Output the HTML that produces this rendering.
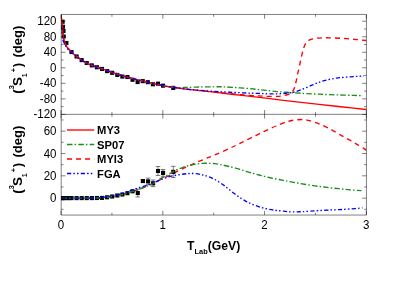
<!DOCTYPE html>
<html><head><meta charset="utf-8"><title>3S1 phase</title>
<style>
html,body{margin:0;padding:0;background:#fff;}
body{width:407px;height:286px;overflow:hidden;font-family:"Liberation Sans",sans-serif;}
svg{display:block;will-change:transform;}
</style></head><body>
<svg width="407" height="286" viewBox="0 0 407 286">
<rect width="407" height="286" fill="#fff"/>
<clipPath id="c1"><rect x="61.20" y="14.45" width="305.25" height="99.90"/></clipPath>
<clipPath id="c2"><rect x="61.20" y="114.35" width="305.25" height="100.70"/></clipPath>
<g fill="none" stroke-width="1.35" stroke-linejoin="round">
<path clip-path="url(#c1)" d="M61.10,14.40 C61.17,15.17 61.35,17.53 61.50,19.00 C61.65,20.47 61.83,21.53 62.00,23.20 C62.17,24.87 62.32,27.13 62.50,29.00 C62.68,30.87 62.87,32.65 63.10,34.40 C63.33,36.15 63.53,38.00 63.90,39.50 C64.27,41.00 64.75,42.09 65.30,43.40 C65.85,44.71 66.47,46.25 67.20,47.37 C67.93,48.48 68.73,49.06 69.70,50.09 C70.67,51.11 71.77,52.39 73.00,53.52 C74.23,54.66 75.63,55.79 77.10,56.90 C78.57,58.01 80.17,59.17 81.80,60.20 C83.43,61.23 85.07,62.17 86.90,63.10 C88.73,64.03 90.75,64.98 92.80,65.80 C94.85,66.62 97.17,67.32 99.20,68.00 C101.23,68.68 102.95,69.22 105.00,69.90 C107.05,70.58 109.25,71.35 111.50,72.10 C113.75,72.85 116.03,73.60 118.50,74.40 C120.97,75.20 122.97,75.96 126.30,76.90 C129.63,77.84 134.55,79.07 138.50,80.07 C142.45,81.07 146.15,82.01 150.00,82.90 C153.85,83.79 157.93,84.68 161.60,85.40 C165.27,86.12 168.32,86.63 172.00,87.20 C175.68,87.77 179.03,88.23 183.70,88.80 C188.37,89.37 194.95,90.05 200.00,90.60 C205.05,91.15 209.00,91.58 214.00,92.10 C219.00,92.62 224.97,93.22 230.00,93.70 C235.03,94.18 239.53,94.63 244.20,95.00 C248.87,95.37 254.37,95.68 258.00,95.90 C261.63,96.12 262.83,96.23 266.00,96.30 C269.17,96.37 274.00,96.42 277.00,96.30 C280.00,96.18 281.88,96.02 284.00,95.60 C286.12,95.18 288.28,94.48 289.70,93.80 C291.12,93.12 291.72,92.47 292.50,91.50 C293.28,90.53 293.82,89.58 294.40,88.00 C294.98,86.42 295.45,84.38 296.00,82.00 C296.55,79.62 297.03,76.78 297.70,73.70 C298.37,70.62 299.27,66.82 300.00,63.50 C300.73,60.18 301.48,56.38 302.10,53.80 C302.72,51.22 303.15,49.67 303.70,48.00 C304.25,46.33 304.72,44.97 305.40,43.80 C306.08,42.63 306.87,41.73 307.80,41.00 C308.73,40.27 309.63,39.85 311.00,39.40 C312.37,38.95 313.80,38.57 316.00,38.30 C318.20,38.03 321.03,37.85 324.20,37.80 C327.37,37.75 331.30,37.85 335.00,38.00 C338.70,38.15 342.73,38.43 346.40,38.70 C350.07,38.97 353.67,39.30 357.00,39.60 C360.33,39.90 364.83,40.35 366.40,40.50" stroke="#ff0000" stroke-dasharray="5.0 4.0"/>
<path clip-path="url(#c2)" d="M61.40,198.10 C63.67,198.10 70.23,198.10 75.00,198.10 C79.77,198.10 86.67,198.11 90.00,198.10 C93.33,198.09 93.00,198.10 95.00,198.05 C97.00,198.00 99.55,198.00 102.00,197.80 C104.45,197.60 107.20,197.19 109.70,196.85 C112.20,196.50 114.53,196.23 117.00,195.74 C119.47,195.24 122.00,194.57 124.50,193.90 C127.00,193.23 129.55,192.47 132.00,191.70 C134.45,190.93 136.67,190.23 139.20,189.30 C141.73,188.37 144.57,187.25 147.20,186.12 C149.83,184.99 152.87,183.58 155.00,182.54 C157.13,181.50 158.02,180.87 160.00,179.90 C161.98,178.93 163.72,178.28 166.90,176.70 C170.08,175.12 175.25,172.28 179.10,170.40 C182.95,168.52 185.90,167.23 190.00,165.40 C194.10,163.57 199.60,161.13 203.70,159.40 C207.80,157.67 210.22,156.87 214.60,155.00 C218.98,153.13 225.92,150.07 230.00,148.20 C234.08,146.33 235.60,145.52 239.10,143.80 C242.60,142.08 246.90,139.92 251.00,137.90 C255.10,135.88 259.53,133.68 263.70,131.70 C267.87,129.72 271.90,127.73 276.00,126.00 C280.10,124.27 285.13,122.30 288.30,121.30 C291.47,120.30 292.67,120.30 295.00,120.00 C297.33,119.70 300.13,119.45 302.30,119.50 C304.47,119.55 305.95,119.85 308.00,120.30 C310.05,120.75 312.60,121.55 314.60,122.20 C316.60,122.85 317.95,123.35 320.00,124.20 C322.05,125.05 324.73,126.23 326.90,127.30 C329.07,128.37 330.97,129.45 333.00,130.60 C335.03,131.75 337.10,133.05 339.10,134.20 C341.10,135.35 342.95,136.37 345.00,137.50 C347.05,138.63 349.40,139.87 351.40,141.00 C353.40,142.13 354.95,143.07 357.00,144.30 C359.05,145.53 362.13,147.38 363.70,148.40 C365.27,149.42 365.95,150.07 366.40,150.40" stroke="#ff0000" stroke-dasharray="5.0 4.0"/>
</g>
<g fill="#000" stroke="none" clip-path="url(#c1)">
<rect x="60.55" y="19.65" width="4.1" height="4.1"/>
<rect x="60.95" y="24.75" width="4.1" height="4.1"/>
<rect x="61.45" y="28.95" width="4.1" height="4.1"/>
<rect x="61.65" y="34.45" width="4.1" height="4.1"/>
<rect x="64.35" y="40.95" width="4.1" height="4.1"/>
<rect x="69.43" y="49.96" width="4.1" height="4.1"/>
<rect x="74.52" y="54.44" width="4.1" height="4.1"/>
<rect x="79.60" y="58.06" width="4.1" height="4.1"/>
<rect x="84.69" y="60.97" width="4.1" height="4.1"/>
<rect x="89.78" y="63.35" width="4.1" height="4.1"/>
<rect x="94.87" y="65.20" width="4.1" height="4.1"/>
<rect x="99.96" y="66.87" width="4.1" height="4.1"/>
<rect x="105.05" y="69.06" width="4.1" height="4.1"/>
<rect x="110.13" y="70.77" width="4.1" height="4.1"/>
<rect x="115.22" y="72.85" width="4.1" height="4.1"/>
<rect x="120.31" y="74.54" width="4.1" height="4.1"/>
<rect x="125.40" y="74.97" width="4.1" height="4.1"/>
<rect x="130.49" y="77.71" width="4.1" height="4.1"/>
<rect x="135.57" y="79.99" width="4.1" height="4.1"/>
<rect x="140.66" y="79.08" width="4.1" height="4.1"/>
<rect x="145.75" y="80.13" width="4.1" height="4.1"/>
<rect x="150.84" y="82.21" width="4.1" height="4.1"/>
<rect x="155.93" y="81.61" width="4.1" height="4.1"/>
<rect x="161.02" y="83.63" width="4.1" height="4.1"/>
<rect x="171.19" y="85.84" width="4.1" height="4.1"/>
</g>
<g fill="#000" stroke="none" clip-path="url(#c2)">
<rect x="59.75" y="196.05" width="4.1" height="4.1"/>
<rect x="60.25" y="196.05" width="4.1" height="4.1"/>
<rect x="61.75" y="196.05" width="4.1" height="4.1"/>
<rect x="64.35" y="196.05" width="4.1" height="4.1"/>
<rect x="66.85" y="196.05" width="4.1" height="4.1"/>
<rect x="69.45" y="196.05" width="4.1" height="4.1"/>
<rect x="74.55" y="196.05" width="4.1" height="4.1"/>
<rect x="79.65" y="196.05" width="4.1" height="4.1"/>
<rect x="84.75" y="196.05" width="4.1" height="4.1"/>
<rect x="89.85" y="196.05" width="4.1" height="4.1"/>
<rect x="94.85" y="195.95" width="4.1" height="4.1"/>
<rect x="99.95" y="195.85" width="4.1" height="4.1"/>
<rect x="105.05" y="195.25" width="4.1" height="4.1"/>
<rect x="110.15" y="194.45" width="4.1" height="4.1"/>
<rect x="115.25" y="193.45" width="4.1" height="4.1"/>
<rect x="120.35" y="192.45" width="4.1" height="4.1"/>
<rect x="125.35" y="191.15" width="4.1" height="4.1"/>
<rect x="130.45" y="189.25" width="4.1" height="4.1"/>
<rect x="135.75" y="190.95" width="4.1" height="4.1"/>
<rect x="140.85" y="179.00" width="4.1" height="4.1"/>
<rect x="146.05" y="179.35" width="4.1" height="4.1"/>
<rect x="151.05" y="181.25" width="4.1" height="4.1"/>
<rect x="155.95" y="168.95" width="4.1" height="4.1"/>
<rect x="161.00" y="170.85" width="4.1" height="4.1"/>
<rect x="171.20" y="169.85" width="4.1" height="4.1"/>
</g>
<g stroke="#000" stroke-width="0.5" fill="none">
<path d="M137.80,189.00 V197.00 M135.50,189.00 h4.6 M135.50,197.00 h4.6"/>
<path d="M142.90,179.85 V182.25 M140.60,179.85 h4.6 M140.60,182.25 h4.6"/>
<path d="M148.10,178.10 V184.70 M145.80,178.10 h4.6 M145.80,184.70 h4.6"/>
<path d="M153.10,180.00 V186.60 M150.80,180.00 h4.6 M150.80,186.60 h4.6"/>
<path d="M158.00,166.50 V175.50 M155.70,166.50 h4.6 M155.70,175.50 h4.6"/>
<path d="M163.05,169.50 V176.30 M160.75,169.50 h4.6 M160.75,176.30 h4.6"/>
<path d="M173.25,166.30 V177.50 M170.95,166.30 h4.6 M170.95,177.50 h4.6"/>
</g>
<g fill="none" stroke-width="1.35" stroke-linejoin="round">
<g clip-path="url(#c1)">
<path d="M61.10,14.40 C61.17,15.17 61.35,17.53 61.50,19.00 C61.65,20.47 61.83,21.53 62.00,23.20 C62.17,24.87 62.32,27.13 62.50,29.00 C62.68,30.87 62.87,32.65 63.10,34.40 C63.33,36.15 63.53,38.00 63.90,39.50 C64.27,41.00 64.75,42.09 65.30,43.40 C65.85,44.71 66.47,46.25 67.20,47.37 C67.93,48.48 68.73,49.06 69.70,50.09 C70.67,51.11 71.77,52.39 73.00,53.52 C74.23,54.66 75.63,55.79 77.10,56.90 C78.57,58.01 80.17,59.17 81.80,60.20 C83.43,61.23 85.07,62.17 86.90,63.10 C88.73,64.03 90.75,64.98 92.80,65.80 C94.85,66.62 97.17,67.32 99.20,68.00 C101.23,68.68 102.95,69.22 105.00,69.90 C107.05,70.58 109.25,71.35 111.50,72.10 C113.75,72.85 116.03,73.60 118.50,74.40 C120.97,75.20 122.97,75.96 126.30,76.90 C129.63,77.84 134.55,79.07 138.50,80.07 C142.45,81.07 146.15,82.01 150.00,82.90 C153.85,83.79 157.93,84.68 161.60,85.40 C165.27,86.12 168.93,86.83 172.00,87.20 C175.07,87.57 177.50,87.57 180.00,87.60 C182.50,87.63 183.67,87.50 187.00,87.40 C190.33,87.30 195.50,87.10 200.00,87.00 C204.50,86.90 210.33,86.83 214.00,86.80 C217.67,86.77 219.00,86.72 222.00,86.80 C225.00,86.88 228.33,87.08 232.00,87.30 C235.67,87.52 240.00,87.77 244.00,88.10 C248.00,88.43 252.27,88.92 256.00,89.30 C259.73,89.68 262.40,89.98 266.40,90.40 C270.40,90.82 275.30,91.38 280.00,91.80 C284.70,92.22 290.27,92.60 294.60,92.90 C298.93,93.20 301.93,93.38 306.00,93.60 C310.07,93.82 314.83,94.02 319.00,94.20 C323.17,94.38 326.88,94.55 331.00,94.70 C335.12,94.85 339.87,94.98 343.70,95.10 C347.53,95.22 350.78,95.32 354.00,95.40 C357.22,95.48 361.50,95.57 363.00,95.60" stroke="#1e8c1e" stroke-dasharray="5.5 2.1 1.5 2.2"/>
<path d="M61.10,14.40 C61.17,15.17 61.35,17.53 61.50,19.00 C61.65,20.47 61.83,21.53 62.00,23.20 C62.17,24.87 62.32,27.13 62.50,29.00 C62.68,30.87 62.87,32.65 63.10,34.40 C63.33,36.15 63.53,38.00 63.90,39.50 C64.27,41.00 64.75,42.09 65.30,43.40 C65.85,44.71 66.47,46.25 67.20,47.37 C67.93,48.48 68.73,49.06 69.70,50.09 C70.67,51.11 71.77,52.39 73.00,53.52 C74.23,54.66 75.63,55.79 77.10,56.90 C78.57,58.01 80.17,59.17 81.80,60.20 C83.43,61.23 85.07,62.17 86.90,63.10 C88.73,64.03 90.75,64.98 92.80,65.80 C94.85,66.62 97.17,67.32 99.20,68.00 C101.23,68.68 102.95,69.22 105.00,69.90 C107.05,70.58 109.25,71.35 111.50,72.10 C113.75,72.85 116.03,73.60 118.50,74.40 C120.97,75.20 122.97,75.96 126.30,76.90 C129.63,77.84 134.55,79.07 138.50,80.07 C142.45,81.07 146.15,82.01 150.00,82.90 C153.85,83.79 157.93,84.68 161.60,85.40 C165.27,86.12 168.32,86.63 172.00,87.20 C175.68,87.77 179.03,88.23 183.70,88.80 C188.37,89.37 194.95,90.03 200.00,90.60 C205.05,91.17 206.63,91.35 214.00,92.20 C221.37,93.05 234.87,94.62 244.20,95.70 C253.53,96.78 262.37,97.80 270.00,98.70 C277.63,99.60 281.83,100.15 290.00,101.10 C298.17,102.05 310.17,103.42 319.00,104.40 C327.83,105.38 335.10,106.15 343.00,107.00 C350.90,107.85 362.50,109.08 366.40,109.50" stroke="#ff0000"/>
<path d="M61.50,26.00 C61.57,27.40 61.68,32.15 61.90,34.40 C62.12,36.65 62.42,38.03 62.80,39.50 C63.18,40.97 63.60,41.92 64.20,43.20 C64.80,44.48 65.57,45.97 66.40,47.20 C67.23,48.43 68.10,49.55 69.20,50.60 C70.30,51.65 71.68,52.47 73.00,53.52 C74.32,54.57 75.63,55.79 77.10,56.90 C78.57,58.01 80.17,59.17 81.80,60.20 C83.43,61.23 85.07,62.17 86.90,63.10 C88.73,64.03 90.75,64.98 92.80,65.80 C94.85,66.62 97.17,67.32 99.20,68.00 C101.23,68.68 102.95,69.22 105.00,69.90 C107.05,70.58 109.25,71.35 111.50,72.10 C113.75,72.85 116.03,73.60 118.50,74.40 C120.97,75.20 122.97,75.96 126.30,76.90 C129.63,77.84 134.55,79.07 138.50,80.07 C142.45,81.07 146.15,82.01 150.00,82.90 C153.85,83.79 157.93,84.68 161.60,85.40 C165.27,86.12 168.32,86.63 172.00,87.20 C175.68,87.77 179.03,88.27 183.70,88.80 C188.37,89.33 193.62,89.90 200.00,90.40 C206.38,90.90 214.67,91.38 222.00,91.80 C229.33,92.22 238.00,92.63 244.00,92.90 C250.00,93.17 253.67,93.23 258.00,93.40 C262.33,93.57 265.95,93.87 270.00,93.90 C274.05,93.93 278.97,93.78 282.30,93.60 C285.63,93.42 287.95,93.07 290.00,92.80 C292.05,92.53 292.93,92.43 294.60,92.00 C296.27,91.57 297.95,90.97 300.00,90.20 C302.05,89.43 304.70,88.32 306.90,87.40 C309.10,86.48 311.17,85.55 313.20,84.70 C315.23,83.85 317.27,82.98 319.10,82.30 C320.93,81.62 322.15,81.15 324.20,80.60 C326.25,80.05 329.10,79.45 331.40,79.00 C333.70,78.55 335.50,78.22 338.00,77.90 C340.50,77.58 343.57,77.33 346.40,77.10 C349.23,76.87 352.07,76.68 355.00,76.50 C357.93,76.32 362.50,76.08 364.00,76.00" stroke="#0000ff" stroke-dasharray="4.2 2.1 1.5 2.2 1.5 2.3"/>
</g>
<g clip-path="url(#c2)">
<path d="M61.40,198.10 C63.67,198.10 70.23,198.10 75.00,198.10 C79.77,198.10 86.67,198.11 90.00,198.10 C93.33,198.09 93.00,198.10 95.00,198.05 C97.00,198.00 99.55,198.00 102.00,197.80 C104.45,197.60 107.20,197.19 109.70,196.85 C112.20,196.50 114.53,196.23 117.00,195.74 C119.47,195.24 122.00,194.57 124.50,193.90 C127.00,193.23 129.55,192.47 132.00,191.70 C134.45,190.93 136.67,190.23 139.20,189.30 C141.73,188.37 144.57,187.25 147.20,186.12 C149.83,184.99 152.87,183.74 155.00,182.54 C157.13,181.34 158.02,180.09 160.00,178.90 C161.98,177.71 164.40,176.77 166.90,175.40 C169.40,174.03 172.32,172.05 175.00,170.70 C177.68,169.35 180.50,168.20 183.00,167.30 C185.50,166.40 187.83,165.83 190.00,165.30 C192.17,164.77 193.95,164.42 196.00,164.10 C198.05,163.78 200.30,163.53 202.30,163.40 C204.30,163.27 205.95,163.25 208.00,163.30 C210.05,163.35 212.60,163.50 214.60,163.70 C216.60,163.90 217.95,164.12 220.00,164.50 C222.05,164.88 224.47,165.43 226.90,166.00 C229.33,166.57 231.92,167.18 234.60,167.90 C237.28,168.62 240.20,169.47 243.00,170.30 C245.80,171.13 248.72,172.12 251.40,172.90 C254.08,173.68 256.50,174.32 259.10,175.00 C261.70,175.68 264.18,176.33 267.00,177.00 C269.82,177.67 273.22,178.43 276.00,179.00 C278.78,179.57 281.37,179.97 283.70,180.40 C286.03,180.83 287.28,181.08 290.00,181.60 C292.72,182.12 295.90,182.80 300.00,183.50 C304.10,184.20 310.10,185.15 314.60,185.80 C319.10,186.45 322.92,186.92 327.00,187.40 C331.08,187.88 335.27,188.30 339.10,188.70 C342.93,189.10 346.27,189.47 350.00,189.80 C353.73,190.13 359.58,190.55 361.50,190.70" stroke="#1e8c1e" stroke-dasharray="5.5 2.1 1.5 2.2"/>
<path d="M61.40,198.10 C63.67,198.10 70.23,198.11 75.00,198.10 C79.77,198.09 86.67,198.08 90.00,198.05 C93.33,198.03 93.00,198.04 95.00,197.95 C97.00,197.86 99.55,197.77 102.00,197.50 C104.45,197.23 107.20,196.74 109.70,196.35 C112.20,195.95 114.53,195.76 117.00,195.14 C119.47,194.51 122.00,193.44 124.50,192.60 C127.00,191.76 129.55,190.93 132.00,190.10 C134.45,189.27 136.67,188.43 139.20,187.60 C141.73,186.77 144.57,186.03 147.20,185.12 C149.83,184.21 152.53,183.13 155.00,182.14 C157.47,181.15 159.58,180.11 162.00,179.19 C164.42,178.27 167.00,177.30 169.50,176.62 C172.00,175.94 174.55,175.54 177.00,175.10 C179.45,174.66 182.03,174.27 184.20,174.00 C186.37,173.73 188.03,173.55 190.00,173.50 C191.97,173.45 193.95,173.48 196.00,173.70 C198.05,173.92 200.30,174.32 202.30,174.80 C204.30,175.28 205.95,175.83 208.00,176.60 C210.05,177.37 212.22,178.13 214.60,179.40 C216.98,180.67 220.07,182.67 222.30,184.20 C224.53,185.73 225.95,187.00 228.00,188.60 C230.05,190.20 232.43,192.18 234.60,193.80 C236.77,195.42 238.95,196.97 241.00,198.30 C243.05,199.63 244.90,200.75 246.90,201.80 C248.90,202.85 250.97,203.77 253.00,204.60 C255.03,205.43 257.10,206.17 259.10,206.80 C261.10,207.43 262.95,207.92 265.00,208.40 C267.05,208.88 269.40,209.35 271.40,209.70 C273.40,210.05 274.95,210.25 277.00,210.50 C279.05,210.75 281.53,210.98 283.70,211.20 C285.87,211.42 287.95,211.68 290.00,211.80 C292.05,211.92 294.00,211.92 296.00,211.90 C298.00,211.88 299.67,211.82 302.00,211.70 C304.33,211.58 307.00,211.40 310.00,211.20 C313.00,211.00 316.67,210.70 320.00,210.50 C323.33,210.30 326.82,210.15 330.00,210.00 C333.18,209.85 335.77,209.77 339.10,209.60 C342.43,209.43 346.10,209.28 350.00,209.00 C353.90,208.72 360.42,208.08 362.50,207.90" stroke="#0000ff" stroke-dasharray="4.2 2.1 1.5 2.2 1.5 2.3"/>
</g>
<path d="M67.0,130.0 H94.2" stroke="#ff0000"/>
<path d="M67.0,144.5 H94.2" stroke="#1e8c1e" stroke-dasharray="5.5 2.1 1.5 2.2"/>
<path d="M67.0,159.0 H94.2" stroke="#ff0000" stroke-dasharray="5.0 4.0"/>
<path d="M67.0,173.5 H94.2" stroke="#0000ff" stroke-dasharray="4.2 2.1 1.5 2.2 1.5 2.3"/>
</g>
<g stroke="#000" stroke-width="0.50" fill="none">
<path d="M61.20,14.45 H366.45 V215.05 H61.20 Z M61.20,114.35 H366.45"/>
<path d="M61.05,215.05 v-4.30 M61.05,110.05 v8.60 M61.05,14.45 v4.30 M111.93,215.05 v-2.30 M111.93,112.05 v4.60 M111.93,14.45 v2.30 M162.82,215.05 v-4.30 M162.82,110.05 v8.60 M162.82,14.45 v4.30 M213.70,215.05 v-2.30 M213.70,112.05 v4.60 M213.70,14.45 v2.30 M264.58,215.05 v-4.30 M264.58,110.05 v8.60 M264.58,14.45 v4.30 M315.47,215.05 v-2.30 M315.47,112.05 v4.60 M315.47,14.45 v2.30 M366.35,215.05 v-4.30 M366.35,110.05 v8.60 M366.35,14.45 v4.30 M61.20,114.40 h4.30 M366.45,114.40 h-4.30 M61.20,106.63 h2.30 M366.45,106.63 h-2.30 M61.20,98.87 h4.30 M366.45,98.87 h-4.30 M61.20,91.10 h2.30 M366.45,91.10 h-2.30 M61.20,83.34 h4.30 M366.45,83.34 h-4.30 M61.20,75.57 h2.30 M366.45,75.57 h-2.30 M61.20,67.80 h4.30 M366.45,67.80 h-4.30 M61.20,60.04 h2.30 M366.45,60.04 h-2.30 M61.20,52.27 h4.30 M366.45,52.27 h-4.30 M61.20,44.51 h2.30 M366.45,44.51 h-2.30 M61.20,36.74 h4.30 M366.45,36.74 h-4.30 M61.20,28.97 h2.30 M366.45,28.97 h-2.30 M61.20,21.21 h4.30 M366.45,21.21 h-4.30 M61.20,209.32 h2.30 M366.45,209.32 h-2.30 M61.20,198.15 h4.30 M366.45,198.15 h-4.30 M61.20,186.98 h2.30 M366.45,186.98 h-2.30 M61.20,175.82 h4.30 M366.45,175.82 h-4.30 M61.20,164.65 h2.30 M366.45,164.65 h-2.30 M61.20,153.48 h4.30 M366.45,153.48 h-4.30 M61.20,142.31 h2.30 M366.45,142.31 h-2.30 M61.20,131.15 h4.30 M366.45,131.15 h-4.30 M61.20,119.98 h2.30 M366.45,119.98 h-2.30"/>
</g>
<g font-family="'Liberation Sans', sans-serif" fill="#000">
<g font-size="12.4px" text-anchor="end">
<text transform="translate(56.5,118.20) scale(0.930,1)">-120</text>
<text transform="translate(56.5,102.67) scale(0.930,1)">-80</text>
<text transform="translate(56.5,87.14) scale(0.930,1)">-40</text>
<text transform="translate(56.5,71.60) scale(0.930,1)">0</text>
<text transform="translate(56.5,56.07) scale(0.930,1)">40</text>
<text transform="translate(56.5,40.54) scale(0.930,1)">80</text>
<text transform="translate(56.5,25.01) scale(0.930,1)">120</text>
<text transform="translate(56.5,202.25) scale(0.930,1)">0</text>
<text transform="translate(56.5,179.92) scale(0.930,1)">20</text>
<text transform="translate(56.5,157.58) scale(0.930,1)">40</text>
<text transform="translate(56.5,135.25) scale(0.930,1)">60</text>
</g>
<g font-size="12.4px" text-anchor="middle">
<text transform="translate(60.90,228.6) scale(0.930,1)">0</text>
<text transform="translate(162.67,228.6) scale(0.930,1)">1</text>
<text transform="translate(264.43,228.6) scale(0.930,1)">2</text>
<text transform="translate(366.20,228.6) scale(0.930,1)">3</text>
</g>
<g font-size="11.8px" font-weight="bold">
<text transform="translate(97.05,134.20) scale(0.95,1)">MY3</text>
<text transform="translate(97.05,148.70) scale(0.95,1)">SP07</text>
<text transform="translate(97.05,163.20) scale(0.95,1)">MYI3</text>
<text transform="translate(97.05,177.70) scale(0.95,1)">FGA</text>
</g>
<text x="187.1" y="249.5" font-size="12.2px" font-weight="bold">T<tspan font-size="7.4px" dy="4.4">Lab</tspan><tspan dy="-4.4">(GeV)</tspan></text>
<text transform="translate(21.9,93.85) rotate(-90)" font-weight="bold" font-size="13.4px"><tspan x="0" y="0">(</tspan><tspan x="4.6" y="-8" font-size="7.4px">3</tspan><tspan x="7.8" y="0">S</tspan><tspan x="16.6" y="4.8" font-size="7px">1</tspan><tspan x="21.7" y="-5.7" font-size="7.4px">+</tspan><tspan x="26.7" y="0">)</tspan><tspan x="36.4" y="0" font-size="13px">(deg)</tspan></text>
<text transform="translate(21.9,193.85) rotate(-90)" font-weight="bold" font-size="13.4px"><tspan x="0" y="0">(</tspan><tspan x="4.6" y="-8" font-size="7.4px">3</tspan><tspan x="7.8" y="0">S</tspan><tspan x="16.6" y="4.8" font-size="7px">1</tspan><tspan x="21.7" y="-5.7" font-size="7.4px">+</tspan><tspan x="26.7" y="0">)</tspan><tspan x="36.4" y="0" font-size="13px">(deg)</tspan></text>
</g>
</svg>
</body></html>
